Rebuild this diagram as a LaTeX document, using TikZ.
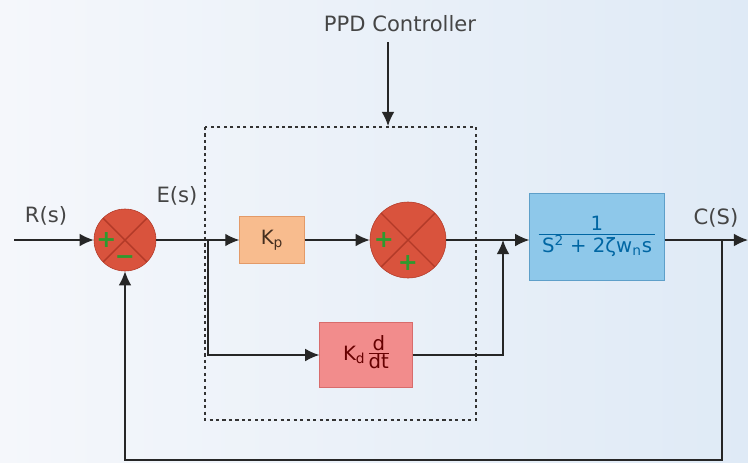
\documentclass[tikz,border=0pt]{standalone}
\usepackage{fontspec}
\setmainfont{DejaVu Sans}
\usetikzlibrary{positioning,arrows.meta}

\definecolor{sumred}{HTML}{D9533D}
\definecolor{sumdark}{HTML}{B23A28}
\definecolor{signgreen}{HTML}{2E9A2E}
\definecolor{kpfill}{HTML}{F8BC8E}
\definecolor{kpline}{HTML}{E39A68}
\definecolor{kdfill}{HTML}{F28C8C}
\definecolor{kdline}{HTML}{D86C6C}
\definecolor{plantfill}{HTML}{8EC8EA}
\definecolor{plantline}{HTML}{5E9FC9}
\definecolor{labelgray}{HTML}{454545}
\definecolor{bgleft}{HTML}{F5F7FB}
\definecolor{bgright}{HTML}{DFEAF6}

\tikzset{
  sumnode/.style={circle, draw=sumdark, fill=sumred, minimum size=#1, inner sep=0pt,
    path picture={\draw[sumdark, line width=1pt]
      (path picture bounding box.north west) -- (path picture bounding box.south east)
      (path picture bounding box.north east) -- (path picture bounding box.south west);}},
  sign/.style={text=signgreen, font=\bfseries\fontsize{17}{17}\selectfont, inner sep=0pt},
  kpbox/.style={draw=kpline, fill=kpfill, minimum width=1.62cm, minimum height=1.17cm, text=black!70!kpline},
  kdbox/.style={draw=kdline, fill=kdfill, minimum width=2.32cm, minimum height=1.62cm, text=black!60!red},
  plantbox/.style={draw=plantline, fill=plantfill, minimum width=3.37cm, minimum height=2.17cm, text=black!60!blue!60!cyan},
  lbl/.style={text=labelgray, font=\fontsize{15}{17}\selectfont},
  sig/.style={line width=1pt, black!85, -{Latex[length=10pt,width=9pt]}},
}

\begin{document}
\begin{tikzpicture}[x=0.025cm, y=-0.025cm, font=\fontsize{14}{16}\selectfont]
  % background
  \shade[left color=bgleft, right color=bgright] (0,0) rectangle (748,462);
  \useasboundingbox (0,0) rectangle (748,462);

  % controller frame
  \draw[gray!40!black, line width=1.3pt, dash pattern=on 2.2pt off 2.4pt] (205,127) rectangle (476,420);
  \node[lbl] (ppd) at (400,24) {PPD Controller};
  \coordinate (ppdin) at (388,126);
  \draw[sig] (388,42) -- (ppdin);

  % blocks
  \node[sumnode=1.55cm] (sumA) at (125,240) {};
  \node[sign] at ([xshift=9pt]sumA.west) {+};
  \node[sign] at ([yshift=8pt]sumA.south) {\textminus};
  \node[kpbox] (kp) at (272,240) {K\textsubscript{p}};
  \node[sumnode=1.9cm] (sumB) at (408,240) {};
  \node[sign] at ([xshift=10pt]sumB.west) {+};
  \node[sign] at ([yshift=11pt]sumB.south) {+};
  \node[kdbox] (kd) at (366,355) {K\textsubscript{d}\,\begin{tabular}{@{}c@{}}d\\[-3pt]\hline dt\end{tabular}};
  \node[plantbox] (plant) at (597,237) {\begin{tabular}{@{\,}c@{\,}}1\\[-2pt]\hline S\textsuperscript{2} + 2ζw\textsubscript{n}s\end{tabular}};

  % labels
  \node[lbl] (rlbl) at (46,216) {R(s)};
  \node[lbl] (elbl) at (177,196) {E(s)};
  \node[lbl] (clbl) at (716,218) {C(S)};

  % signal path
  \coordinate (rin) at (14,240);
  \coordinate (cout) at (748,240);
  \coordinate (esplit) at (208,240);
  \coordinate (join) at (503,240);
  \coordinate (csplit) at (722,240);
  \draw[sig] (rin) -- (sumA.west);
  \draw[sig] (sumA.east) -- (kp.west);
  \draw[sig] (kp.east) -- (sumB.west);
  \draw[sig] (sumB.east) -- (plant.west |- sumB.east);
  \draw[sig] (plant.east |- csplit) -- (cout);
  \draw[sig] (esplit) |- (kd.west);
  \draw[sig] (kd.east) -| (join);
  \draw[sig] (csplit) -- (722,460) -| (sumA.south);
\end{tikzpicture}
\end{document}
